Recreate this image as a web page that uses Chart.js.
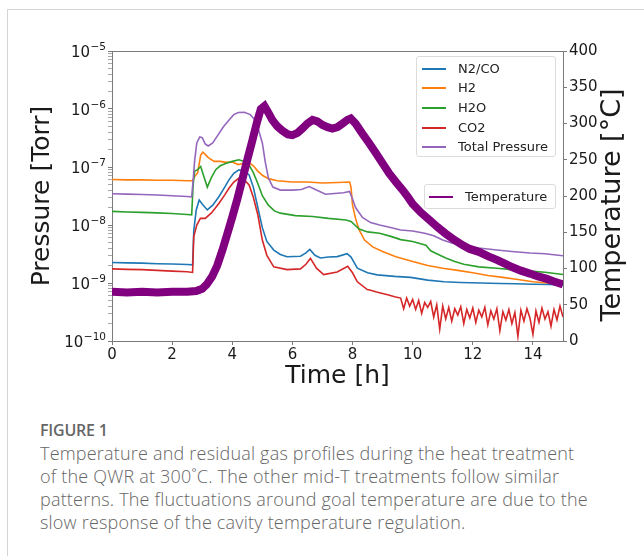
<!DOCTYPE html>
<html><head><meta charset="utf-8">
<script src="https://cdn.jsdelivr.net/npm/chart.js@4.4.0/dist/chart.umd.min.js"></script>
<style>
html,body{margin:0;padding:0;background:#fff;width:644px;height:556px;overflow:hidden;}
#card{position:absolute;left:7px;top:9px;width:700px;height:600px;border:1px solid #d4d4d4;box-sizing:border-box;}
#wrap{position:absolute;left:0;top:0;width:644px;height:400px;}
.legend{position:absolute;border:1px solid #dcdcdc;border-radius:3px;background:rgba(255,255,255,0.85);font-family:"DejaVu Sans";font-size:13px;color:#222;box-sizing:border-box;}
.row{position:absolute;left:0;height:20px;line-height:20px;white-space:nowrap;}
.ln{position:absolute;top:9px;height:2px;width:24px;}
.tx{position:absolute;top:0;}
#fig{position:absolute;left:40px;top:419px;font-family:"Open Sans";font-weight:600;font-size:16px;color:#666;line-height:22px;letter-spacing:-0.2px;}
#cap{position:absolute;left:40px;top:442px;font-family:"Open Sans";font-weight:300;font-size:18px;letter-spacing:0.2px;color:#666;line-height:23px;white-space:nowrap;}
</style></head>
<body>
<div id="card"></div>
<div id="wrap"><canvas id="c" width="644" height="400"></canvas></div>
<div id="leg1" class="legend" style="left:416px;top:56px;width:140px;height:101px;"></div>
<div id="leg2" class="legend" style="left:424px;top:184px;width:132px;height:25px;"></div>
<div id="fig">FIGURE 1</div>
<div id="cap">Temperature and residual gas profiles during the heat treatment<br>of the QWR at 300˚C. The other mid-T treatments follow similar<br>patterns. The fluctuations around goal temperature are due to the<br>slow response of the cavity temperature regulation.</div>
<script>
// ---- data (time in hours, pressure in Torr, temperature in °C) ----
const xTicks = [0, 2, 4, 6, 8, 10, 12, 14];
const pTicksMajor = [1e-10, 1e-9, 1e-8, 1e-7, 1e-6, 1e-5];
const tTicks = [0, 50, 100, 150, 200, 250, 300, 350, 400];

const n2coT = [0,0.5,1,1.5,2,2.5,2.68,2.72,2.8,2.9,3.0,3.17,3.35,3.56,3.75,3.89,4.05,4.22,4.4,4.56,4.7,4.85,5.0,5.15,5.38,5.6,5.82,6.27,6.45,6.58,6.75,6.93,7.2,7.49,7.82,7.95,8.16,8.5,8.82,9.4,9.93,10.5,11.04,11.6,12.27,12.9,13.4,14,14.6,15];
const n2coV = [2.25e-9,2.22e-9,2.2e-9,2.15e-9,2.12e-9,2.08e-9,2.05e-9,8e-9,1.8e-8,2.7e-8,2.3e-8,1.82e-8,2.2e-8,3.1e-8,4.5e-8,6e-8,7.8e-8,8.9e-8,8.5e-8,7.3e-8,4.5e-8,2.0e-8,9e-9,5.2e-9,3.7e-9,3.1e-9,2.84e-9,2.9e-9,3.3e-9,3.8e-9,3.0e-9,2.7e-9,2.8e-9,2.85e-9,3.2e-9,2.8e-9,1.8e-9,1.5e-9,1.38e-9,1.3e-9,1.25e-9,1.12e-9,1.05e-9,1.02e-9,1.0e-9,9.8e-10,9.7e-10,9.5e-10,9.4e-10,9.2e-10];

const h2T = [0,0.5,1,1.5,2,2.5,2.68,2.72,2.85,2.95,3.02,3.1,3.2,3.4,3.6,3.8,4.0,4.2,4.35,4.55,4.7,4.85,5.0,5.2,5.5,6.0,6.5,7.0,7.5,7.9,7.95,8.0,8.1,8.22,8.4,8.67,9.0,9.44,10,10.5,11,11.5,12,12.5,13,13.5,14,14.5,15];
const h2V = [6.1e-8,6.0e-8,6.0e-8,5.9e-8,5.9e-8,5.8e-8,5.8e-8,6.5e-8,8e-8,1.6e-7,1.8e-7,1.65e-7,1.45e-7,1.25e-7,1.25e-7,1.2e-7,1.22e-7,1.1e-7,1.15e-7,1.2e-7,1.05e-7,8.5e-8,7.2e-8,6.3e-8,5.8e-8,5.5e-8,5.5e-8,5.3e-8,5.4e-8,5.5e-8,4.5e-8,2.2e-8,1.3e-8,8.2e-9,5.5e-9,4.2e-9,3.5e-9,2.84e-9,2.35e-9,2.0e-9,1.8e-9,1.65e-9,1.5e-9,1.35e-9,1.25e-9,1.15e-9,1.05e-9,1.0e-9,9.5e-10];

const h2oT = [0,0.5,1,1.5,2,2.5,2.65,2.7,2.75,2.85,2.95,3.05,3.17,3.3,3.45,3.6,3.8,4.0,4.22,4.4,4.56,4.7,4.85,5.0,5.2,5.4,5.6,6.1,6.67,7.2,7.78,7.95,8.22,8.5,8.9,9.3,9.6,10,10.44,10.6,10.8,11.1,11.4,11.7,12.2,12.8,13.3,13.9,14.4,15];
const h2oV = [1.72e-8,1.68e-8,1.65e-8,1.62e-8,1.58e-8,1.52e-8,1.5e-8,5e-8,8.5e-8,9e-8,1.02e-7,7e-8,4.5e-8,6.5e-8,9e-8,1.05e-7,1.16e-7,1.25e-7,1.33e-7,1.25e-7,1.08e-7,8e-8,5.2e-8,3.2e-8,2.2e-8,1.75e-8,1.6e-8,1.45e-8,1.4e-8,1.3e-8,1.22e-8,1.15e-8,8.5e-9,7.6e-9,7.2e-9,6.3e-9,5.6e-9,5.2e-9,4.5e-9,3.6e-9,3.2e-9,2.7e-9,2.35e-9,2.1e-9,1.9e-9,1.8e-9,1.7e-9,1.6e-9,1.53e-9,1.4e-9];

const co2T = [0,0.5,1,1.5,2,2.5,2.68,2.72,2.82,2.94,3.1,3.3,3.56,3.75,3.89,4.05,4.22,4.4,4.56,4.7,4.85,5.0,5.15,5.38,5.82,6.27,6.45,6.6,6.8,7.04,7.49,7.84,8.0,8.16,8.49,8.6,8.8,9.0,9.2,9.4,9.6,9.7,9.8,9.9,10.0,10.1,10.2,10.3,10.4,10.5,10.6,10.7,10.8,10.9,11.0,11.1,11.2,11.3,11.4,11.5,11.6,11.7,11.8,11.9,12.0,12.1,12.2,12.3,12.4,12.5,12.6,12.7,12.8,12.9,13.0,13.1,13.2,13.3,13.4,13.5,13.6,13.7,13.8,13.9,14.0,14.1,14.2,14.3,14.4,14.5,14.6,14.7,14.8,14.9,15.0];
const co2V = [1.75e-9,1.72e-9,1.7e-9,1.65e-9,1.6e-9,1.56e-9,1.52e-9,6.3e-9,1.0e-8,1.3e-8,1.3e-8,1.6e-8,2.37e-8,3.3e-8,4.3e-8,5.5e-8,6.4e-8,6.0e-8,4.9e-8,3.0e-8,1.5e-8,5.5e-9,3.0e-9,1.9e-9,1.7e-9,1.75e-9,2.1e-9,2.65e-9,1.8e-9,1.4e-9,1.55e-9,1.95e-9,1.5e-9,1.05e-9,7.7e-10,7.5e-10,7.0e-10,6.6e-10,6.2e-10,5.8e-10,5.5e-10,3.6e-10,5.5e-10,4.0e-10,5.2e-10,3.5e-10,5.0e-10,3.0e-10,4.6e-10,3.8e-10,4.8e-10,2.6e-10,4.2e-10,1.6e-10,4.0e-10,2.4e-10,3.8e-10,2.2e-10,3.6e-10,2.8e-10,3.9e-10,2.0e-10,3.5e-10,2.5e-10,3.7e-10,2.1e-10,3.4e-10,2.6e-10,3.8e-10,1.9e-10,3.3e-10,2.4e-10,3.6e-10,1.5e-10,3.2e-10,2.3e-10,3.5e-10,2.0e-10,3.1e-10,1.2e-10,3.4e-10,2.2e-10,3.6e-10,2.5e-10,1.3e-10,3.3e-10,2.1e-10,3.7e-10,2.4e-10,3.2e-10,1.8e-10,3.5e-10,2.3e-10,4.0e-10,2.6e-10];

const totalT = [0,0.5,1,1.5,2,2.5,2.65,2.7,2.75,2.82,2.92,3.0,3.1,3.2,3.35,3.5,3.7,3.9,4.05,4.2,4.4,4.6,4.75,4.85,5.0,5.1,5.2,5.35,5.6,6.0,6.3,6.56,6.8,7.1,7.4,7.7,7.9,8.0,8.1,8.33,8.6,8.9,9.3,9.6,10,10.4,10.7,11.0,11.3,11.7,12.2,12.8,13.3,13.9,14.4,15];
const totalV = [3.45e-8,3.4e-8,3.35e-8,3.3e-8,3.2e-8,3.1e-8,3.05e-8,6e-8,1.3e-7,2.6e-7,3.3e-7,3.2e-7,2.5e-7,2.3e-7,2.6e-7,3.4e-7,4.9e-7,6.5e-7,8.0e-7,8.7e-7,8.8e-7,8.0e-7,6.5e-7,4.8e-7,2.6e-7,1.2e-7,6.5e-8,4.5e-8,4.0e-8,4.0e-8,4.1e-8,4.6e-8,4.0e-8,3.4e-8,3.5e-8,3.6e-8,3.8e-8,2.8e-8,2.0e-8,1.35e-8,1.1e-8,1.0e-8,9.0e-9,8.2e-9,7.9e-9,7.2e-9,6.5e-9,5.5e-9,4.9e-9,4.4e-9,4.0e-9,3.7e-9,3.5e-9,3.3e-9,3.2e-9,2.95e-9];

const tempT = [0,0.5,1,1.5,2,2.5,2.8,3.0,3.15,3.33,3.5,3.67,3.83,4.0,4.17,4.33,4.5,4.67,4.83,4.95,5.07,5.2,5.33,5.5,5.67,5.85,6.0,6.17,6.33,6.5,6.67,6.83,7.0,7.17,7.33,7.5,7.67,7.83,7.94,8.1,8.33,8.55,8.78,9.0,9.22,9.45,9.67,9.85,10.0,10.28,10.56,10.83,11.1,11.4,11.67,11.9,12.2,12.5,12.8,13.05,13.3,13.6,13.9,14.17,14.44,14.7,15.0];
const tempV = [68,67,68,67,68,68,69,72,78,89,104,125,147,171,196,222,250,277,303,320,324,315,305,296,290,285,284,287,293,300,305,303,298,295,293,295,300,305,307,300,286,273,259,245,231,219,208,198,189,177,167,157,148,139,132,127,123,117,112,107,102,97,93,89,86,82,78];

const names = ['N2/CO','H2','H2O','CO2','Total Pressure','Temperature'];
const colors = ['#1f77b4','#ff7f0e','#2ca02c','#d62728','#9467bd','#800080'];

// ---- build ----
const pts = (t, v) => t.map((x, i) => ({x: x, y: v[i]}));
const series = [[n2coT,n2coV],[h2T,h2V],[h2oT,h2oV],[co2T,co2V],[totalT,totalV],[tempT,tempV]];
const datasets = series.map((s, i) => ({
  label: names[i],
  data: pts(s[0], s[1]),
  borderColor: colors[i],
  backgroundColor: colors[i],
  borderWidth: i === 5 ? 8 : 1.6,
  pointRadius: 0,
  tension: 0,
  fill: false,
  yAxisID: i === 5 ? 'y2' : 'y',
  order: 6 - i
}));

const pAllTicks = [];
for (let e = -10; e < -5; e++) for (let m = 1; m < 10; m++) pAllTicks.push(m * Math.pow(10, e));
pAllTicks.push(1e-5);
const isMajor = v => pTicksMajor.some(m => Math.abs(v / m - 1) < 1e-6);
const expText = v => '−' + String(Math.round(-Math.log10(v)));

const axisColor = '#7a7a7a';
const textColor = '#1a1a1a';
const tickFont = {family: 'DejaVu Sans', size: 15};
const titleFont = {family: 'DejaVu Sans', size: 25, lineHeight: 1.2};

// right-hand axis title (reads bottom-to-top) and mathtext-style log labels
const extraText = {
  id: 'extraText',
  afterDraw(chart) {
    const ctx = chart.ctx;
    const s2 = chart.scales.y2;
    ctx.save();
    ctx.translate(s2.right - 31, (s2.top + s2.bottom) / 2 + 9);
    ctx.rotate(-Math.PI / 2);
    ctx.font = '27px "DejaVu Sans"';
    ctx.fillStyle = textColor;
    ctx.textAlign = 'center';
    ctx.textBaseline = 'middle';
    ctx.fillText('Temperature [°C]', 0, 0);
    ctx.restore();

    const s = chart.scales.y;
    ctx.save();
    ctx.fillStyle = textColor;
    ctx.textBaseline = 'alphabetic';
    ctx.textAlign = 'right';
    const xr = s.right - 6;
    pTicksMajor.forEach(v => {
      const y = s.getPixelForValue(v);
      const e = expText(v);
      ctx.font = '10.5px "DejaVu Sans"';
      const ew = ctx.measureText(e).width;
      ctx.fillText(e, xr, y - 1);
      ctx.font = '15px "DejaVu Sans"';
      ctx.fillText('10', xr - ew - 0.5, y + 5.5);
    });
    ctx.restore();
  }
};

new Chart(document.getElementById('c'), {
  type: 'line',
  data: {datasets},
  plugins: [extraText],
  options: {
    responsive: false,
    animation: false,
    events: [],
    layout: {padding: {top: 51, left: 0, right: 0, bottom: 0}},
    plugins: {legend: {display: false}, tooltip: {enabled: false}},
    scales: {
      x: {
        type: 'linear', position: 'bottom', min: 0, max: 15,
        afterBuildTicks: s => { s.ticks = xTicks.map(v => ({value: v})); },
        afterFit: s => { s.height = 59; },
        grid: {drawOnChartArea: false, color: axisColor, tickLength: 4},
        border: {color: axisColor, width: 1},
        ticks: {font: tickFont, color: textColor, padding: 1, maxRotation: 0, autoSkip: false},
        title: {display: true, text: 'Time [h]', font: titleFont, color: textColor, padding: {top: 0, bottom: 8.5}}
      },
      xtop: {
        type: 'linear', position: 'top', min: 0, max: 15,
        afterFit: s => { s.height = 0; },
        grid: {drawOnChartArea: false, drawTicks: false},
        border: {color: axisColor, width: 1},
        ticks: {display: false}
      },
      y: {
        type: 'logarithmic', position: 'left', min: 1e-10, max: 1e-5,
        afterBuildTicks: s => { s.ticks = pAllTicks.map(v => ({value: v, major: isMajor(v)})); },
        afterFit: s => { s.width = 112; },
        grid: {drawOnChartArea: false, tickLength: 4,
               tickColor: c => (c.tick && isMajor(c.tick.value)) ? axisColor : '#a8a8a8'},
        border: {color: axisColor, width: 1},
        ticks: {font: tickFont, color: textColor, padding: 2, autoSkip: false, callback: () => ''},
        title: {display: true, text: 'Pressure [Torr]', font: titleFont, color: textColor, padding: {top: 27.5, bottom: 0}}
      },
      y2: {
        type: 'linear', position: 'right', min: 0, max: 400,
        afterBuildTicks: s => { s.ticks = tTicks.map(v => ({value: v})); },
        afterFit: s => { s.width = 81; },
        grid: {drawOnChartArea: false, color: axisColor, tickLength: 4},
        border: {color: axisColor, width: 1},
        ticks: {font: tickFont, color: textColor, padding: 2, autoSkip: false}
      }
    }
  }
});

// ---- legends ----
function makeLegend(el, idx) {
  idx.forEach((k, r) => {
    const row = document.createElement('div');
    row.className = 'row';
    row.style.top = (1.6 + r * 19.7) + 'px';
    row.style.width = '100%';
    const ln = document.createElement('div');
    ln.className = 'ln';
    ln.style.left = (el.id === 'leg1' ? 5 : 4) + 'px';
    ln.style.background = colors[k];
    const tx = document.createElement('div');
    tx.className = 'tx';
    tx.style.left = (el.id === 'leg1' ? 41 : 40) + 'px';
    tx.textContent = names[k];
    row.appendChild(ln); row.appendChild(tx);
    el.appendChild(row);
  });
}
makeLegend(document.getElementById('leg1'), [0,1,2,3,4]);
makeLegend(document.getElementById('leg2'), [5]);
</script>
</body></html>
